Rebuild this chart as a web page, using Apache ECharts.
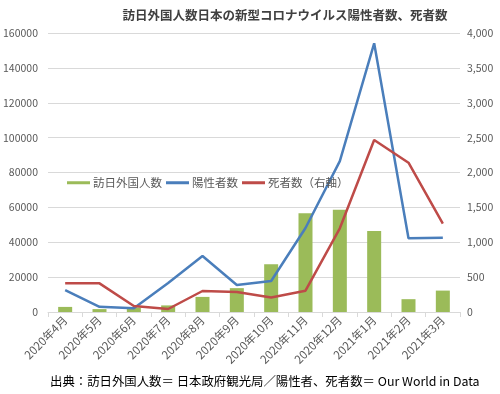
<!DOCTYPE html>
<html><head><meta charset="utf-8">
<script src="https://cdn.jsdelivr.net/npm/echarts@6/dist/echarts.min.js"></script>
<style>html,body{margin:0;padding:0;background:#fff}#c{width:500px;height:394px}</style>
</head><body><div id="c"></div>
<script>
var categories = ['2020年4月','2020年5月','2020年6月','2020年7月','2020年8月','2020年9月','2020年10月','2020年11月','2020年12月','2021年1月','2021年2月','2021年3月'];
var visitors = [2917, 1663, 2565, 3782, 8658, 13684, 27386, 56673, 58673, 46500, 7355, 12276];
var positives = [12600, 3000, 2100, 16600, 32100, 15500, 17800, 48200, 86500, 154100, 42300, 42600];
var deaths = [411, 411, 86, 43, 301, 287, 208, 305, 1200, 2466, 2140, 1268];
var leftTicks = {min: 0, max: 160000, interval: 20000};
var rightTicks = {min: 0, max: 4000, interval: 500};

var FF = '"Noto Sans CJK JP", "Noto Sans", sans-serif';
var chart = echarts.init(document.getElementById('c'));
chart.setOption({
  animation: false,
  textStyle: {fontFamily: FF},
  title: [
    {text: '訪日外国人数日本の新型コロナウイルス陽性者数、死者数', left: 280, textAlign: 'center', top: 4,
     textStyle: {fontSize: 12.5, fontWeight: 'bold', color: '#404040', fontFamily: FF}},
    {text: '出典：訪日外国人数＝ 日本政府観光局／陽性者、死者数＝ Our World in Data', left: 45, top: 370,
     textStyle: {fontSize: 12.4, fontWeight: 'normal', color: '#000', fontFamily: FF}}
  ],
  legend: {
    left: 62, top: 172, itemWidth: 23, itemHeight: 3, itemGap: 4,
    textStyle: {fontSize: 11.5, color: '#595959', fontFamily: FF, padding: [0,0,0,-2]},
    data: [
      {name: '訪日外国人数', icon: 'rect'},
      {name: '陽性者数', icon: 'rect'},
      {name: '死者数（右軸）', icon: 'rect'}
    ]
  },
  grid: {left: 48, right: 40, top: 33, bottom: 82},
  xAxis: {
    type: 'category', data: categories,
    axisLine: {lineStyle: {color: '#d9d9d9'}},
    axisTick: {show: true, length: 5, lineStyle: {color: '#d9d9d9'}},
    axisLabel: {rotate: 45, fontSize: 11.5, color: '#595959', margin: 6, interval: 0}
  },
  yAxis: [
    {type: 'value', min: leftTicks.min, max: leftTicks.max, interval: leftTicks.interval,
     axisLabel: {fontSize: 10.5, color: '#595959', margin: 10, formatter: function(v){return String(v);}},
     splitLine: {lineStyle: {color: '#d9d9d9'}}, axisLine: {show: false}, axisTick: {show: false}},
    {type: 'value', min: rightTicks.min, max: rightTicks.max, interval: rightTicks.interval,
     axisLabel: {fontSize: 10.5, color: '#595959', margin: 7, formatter: function(v){return v.toLocaleString('en-US');}},
     splitLine: {show: false}, axisLine: {show: false}, axisTick: {show: false}}
  ],
  series: [
    {name: '訪日外国人数', type: 'bar', data: visitors, barWidth: 14, itemStyle: {color: '#9BBB59'}},
    {name: '陽性者数', type: 'line', data: positives, symbol: 'none', lineStyle: {width: 2.5, color: '#4A7EBB'}, itemStyle: {color: '#4A7EBB'}},
    {name: '死者数（右軸）', type: 'line', yAxisIndex: 1, data: deaths, symbol: 'none', lineStyle: {width: 2.5, color: '#BE4B48'}, itemStyle: {color: '#BE4B48'}}
  ]
});
</script></body></html>
